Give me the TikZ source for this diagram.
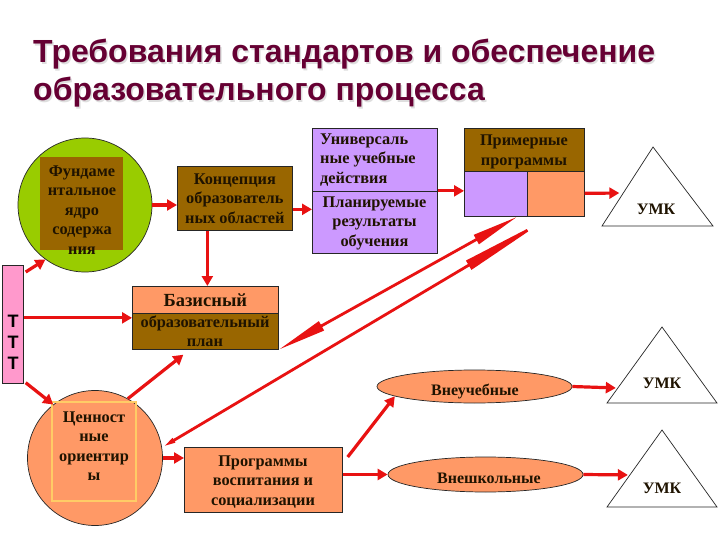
\documentclass[tikz,border=0pt]{standalone}
\usepackage{fontspec}
\setmainfont{Liberation Serif}
\newfontfamily\titlefont{Liberation Sans}
\usetikzlibrary{arrows.meta,shapes.geometric,calc}
\definecolor{brownbox}{HTML}{996600}
\definecolor{orangebox}{HTML}{FF9966}
\definecolor{purplebox}{HTML}{CC99FF}
\definecolor{greenbox}{HTML}{99CC00}
\definecolor{pinkbox}{HTML}{FF99CC}
\definecolor{titlecol}{HTML}{660033}
\definecolor{arrred}{HTML}{E81212}
\definecolor{txt}{HTML}{1F1300}
\definecolor{goldline}{HTML}{FFCC66}
\tikzset{
  box/.style={draw=black!85, line width=0.7pt, inner sep=0pt, anchor=north west, font=\bodyfont, text=txt, align=center},
  lbl/.style={font=\bodyfont, text=txt, align=center, inner sep=0pt},
  arr/.style={draw=arrred, line width=3.2pt, -{Triangle[length=10pt,width=11pt]}},
  longarr/.style={draw=arrred, line width=2.8pt},
  umk/.style={lbl, font=\bfseries\fontsize{16}{18}\selectfont},
}
\newcommand{\bodyfont}{\bfseries\fontsize{16.3}{19.5}\selectfont}
\newcommand{\ttlfont}{\titlefont\bfseries\fontsize{32}{38}\selectfont}
\begin{document}
\begin{tikzpicture}[x=1pt,y=-1pt]
\useasboundingbox (0,0) rectangle (720,540);
\fill[white] (0,0) rectangle (720,540);

% title
\node[anchor=base west, inner sep=0, font=\ttlfont, text=black!13] at (34.5,64.5) {Требования стандартов и обеспечение};
\node[anchor=base west, inner sep=0, font=\ttlfont, text=black!13] at (34.5,102.5) {образовательного процесса};
\node[anchor=base west, inner sep=0, font=\ttlfont, text=titlecol] (t1) at (33,63) {Требования стандартов и обеспечение};
\node[anchor=base west, inner sep=0, font=\ttlfont, text=titlecol] (t2) at (33,101) {образовательного процесса};

% circle 1
\node[circle, draw=black!85, line width=0.7pt, fill=greenbox, minimum size=134pt, inner sep=0] (c1) at (85,205) {};
\fill[brownbox] (40,157) rectangle (123,250);
\node[lbl] (c1t) at (82,210) {Фундаме\\нтальное\\ядро\\содержа\\ния};

% Концепция
\node[box, fill=brownbox, minimum width=115pt, minimum height=64pt] (konc) at (177,166) {Концепция\\образователь\\ных областей};

% УУД
\node[box, fill=purplebox, minimum width=125pt, minimum height=125pt] (uud) at (312,128) {};
\draw[black!85, line width=0.7pt] ([yshift=-63pt]uud.north west) -- ([yshift=-63pt]uud.north east);
\node[lbl, align=left, anchor=west] (uudt) at (320,160) {Универсаль\\ные учебные\\действия};
\node[lbl] (plan) at (374.5,223) {Планируемые\\результаты\\обучения};

% Примерные программы
\node[box, fill=brownbox, minimum width=120pt, minimum height=43pt] (primtop) at (464,128) {};
\node[lbl] (primt) at (524,152) {Примерные\\программы};
\node[box, fill=purplebox, minimum width=63pt, minimum height=45pt] (primL) at (464,171) {};
\node[box, fill=orangebox, minimum width=57pt, minimum height=45pt] (primR) at (527,171) {};
\node[box, minimum width=120pt, minimum height=88pt] (prim) at (464,128) {};

% triangles
\draw[black!85, line width=0.7pt] (602,226) -- coordinate[pos=0.418] (t1l) (653,147) -- (713,226) -- cycle;
\node[umk] (umk1) at (656,209) {УМК};
\draw[black!85, line width=0.7pt] (607,403) -- coordinate[pos=0.197] (t2l) (662,327) -- (717,403) -- cycle;
\node[umk] (umk2) at (662,383) {УМК};
\draw[black!85, line width=0.7pt] (607,507) -- coordinate[pos=0.416] (t3l) (662,430) -- (717,507) -- cycle;
\node[umk] (umk3) at (662,488) {УМК};

% ТТТ
\node[box, fill=pinkbox, minimum width=21pt, minimum height=118pt] (ttt) at (2,265) {};
\node[lbl, font=\titlefont\bfseries\fontsize{18}{21}\selectfont, text=black] (tttt) at (13,342) {Т\\Т\\Т};

% Базисный
\node[box, fill=orangebox, minimum width=146pt, minimum height=27pt, font=\bfseries\fontsize{18.5}{20}\selectfont] (baztop) at (132,286) {Базисный};
\node[box, fill=brownbox, minimum width=146pt, minimum height=36pt] (bazbot) at (132,313) {};
\node[lbl] (bazt) at (205,331) {образовательный\\план};
\node[box, minimum width=146pt, minimum height=63pt] (bazis) at (132,286) {};

% circle 2
\node[circle, draw=black!85, line width=0.7pt, fill=orangebox, minimum size=135pt, inner sep=0] (c2) at (95,458) {};
\draw[goldline, line width=1.2pt] (52,402) rectangle (136,501);
\node[lbl] (c2t) at (94,446) {Ценност\\ные\\ориентир\\ы};

% Программы воспитания
\node[box, fill=orangebox, minimum width=158pt, minimum height=65pt] (progr) at (184,447) {};
\node[lbl] (progrt) at (263,482) {Программы\\воспитания и\\социализации};

% ellipses
\node[ellipse, draw=black!85, line width=0.7pt, fill=orangebox, minimum width=195pt, minimum height=33pt, inner sep=0] (ell1) at (474.5,386.5) {};
\node[umk] (ell1t) at (475,391) {Внеучебные};
\node[ellipse, draw=black!85, line width=0.7pt, fill=orangebox, minimum width=195pt, minimum height=35pt, inner sep=0] (ell2) at (485.5,474.5) {};
\node[umk] (ell2t) at (489,478) {Внешкольные};

% short arrows
\draw[arr] (c1.east) -- (c1.east -| konc.west);
\draw[arr] ([yshift=-11pt]konc.east) -- ([yshift=-11pt]konc.east -| uud.west);
\draw[arr] ([xshift=-27.5pt]konc.south) -- ([xshift=-27.5pt]konc.south |- bazis.north);
\draw[arr] (uud.east) -- (uud.east -| prim.west);
\draw[arr, shorten >=4pt] ([yshift=-21pt]prim.east) -- (t1l);
\draw[arr, shorten >=2pt] (ell1.east) -- (t2l);
\draw[arr, shorten >=2pt] (ell2.east) -- (t3l);
\draw[arr] ($(ttt.north east)+(2,7)$) -- (c1.234);
\draw[arr] (ttt.east |- bazis.west) -- (bazis.west);
\draw[arr] ($(ttt.south east)+(2,-1)$) -- (c2.128);
\draw[arr] (c2.61) -- ([xshift=-22pt,yshift=-5pt]bazis.south);
\draw[arr] (c2.east) -- (c2.east -| progr.west);
\draw[arr] ([xshift=5pt,yshift=-10pt]progr.north east) -- (ell1.187);
\draw[arr] (progr.east |- ell2.west) -- (ell2.west);

% long double arrows
\draw[longarr, {Triangle[length=49pt,width=10pt]}-{Triangle[length=47pt,width=10pt]}] (bazis.south east) -- ([xshift=-7pt]prim.south);
\draw[longarr, {Triangle[length=14pt,width=4.5pt]}-{Triangle[length=95pt,width=10pt]}] (c2.9) -- ([xshift=26pt]prim.south);
\end{tikzpicture}
\end{document}
